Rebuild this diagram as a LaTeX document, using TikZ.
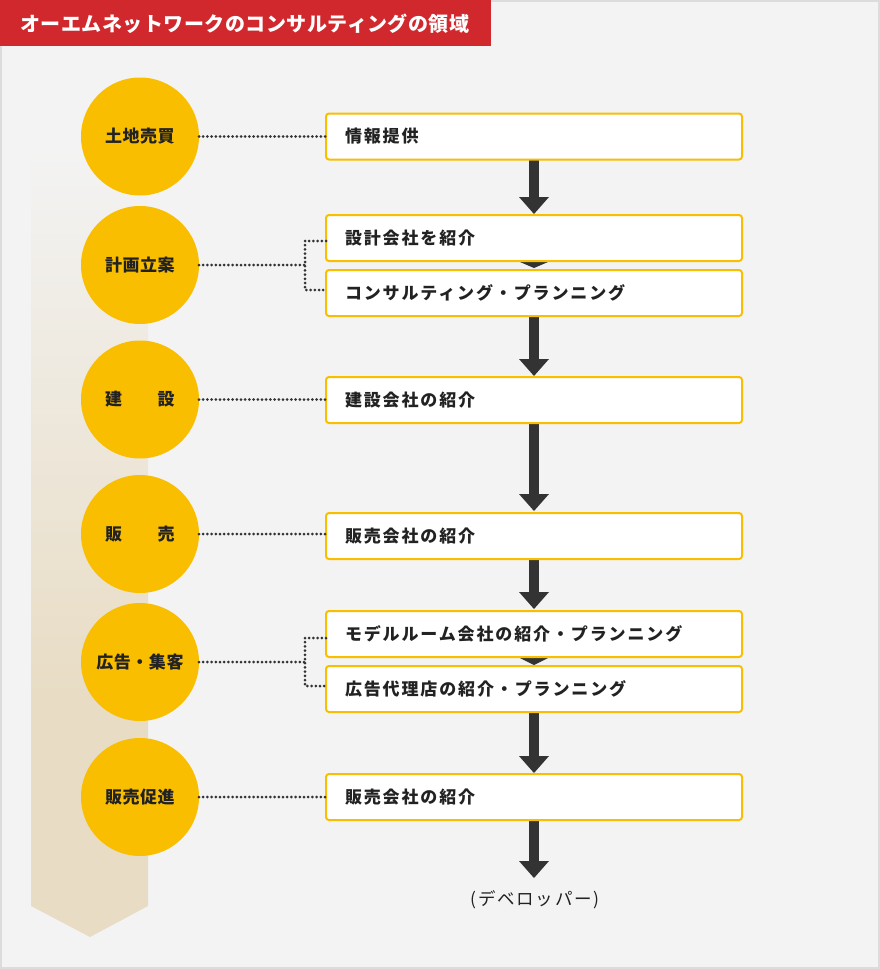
\documentclass[tikz,border=0pt]{standalone}
\usepackage{fontspec}
\setmainfont{Noto Sans CJK JP}
\usetikzlibrary{calc}
\definecolor{bgc}{HTML}{F3F3F3}
\definecolor{framec}{HTML}{DCDCDC}
\definecolor{titlered}{HTML}{D0282C}
\definecolor{gold}{HTML}{F9BE00}
\definecolor{beige}{HTML}{E8DCC4}
\definecolor{arrc}{HTML}{333333}
\definecolor{txt}{HTML}{222222}
\tikzset{
  stage/.style={circle, fill=gold, minimum size=118pt, inner sep=0pt, outer sep=0pt,
    text=txt, font=\fontsize{17}{19}\selectfont\bfseries\addfontfeatures{LetterSpace=3}},
  itembox/.style={draw=gold, line width=2pt, fill=white, rounded corners=3pt,
    minimum height=46pt, text width=378pt, inner xsep=19pt, inner ysep=0pt, outer sep=0pt,
    align=left, text=txt, font=\fontsize{17}{20}\selectfont\bfseries\addfontfeatures{LetterSpace=11}},
  dotline/.style={draw=arrc, line width=3pt, line cap=round, dash pattern=on 0pt off 4.2pt},
  arrfill/.style={fill=arrc},
}
\newcommand\flowarr[2]{%
  \fill[arrfill] ([xshift=-5pt]#1) rectangle ([xshift=5pt,yshift=17pt]#2);
  \fill[arrfill] ([xshift=-15pt,yshift=17pt]#2) -- (#2) -- ([xshift=15pt,yshift=17pt]#2) -- cycle;}
\begin{document}
\begin{tikzpicture}[x=1pt,y=-1pt]
\useasboundingbox (0,0) rectangle (880,969);
% background
\fill[bgc] (0,0) rectangle (880,969);
\draw[framec, line width=2pt] (1,1) rectangle (879,968);
% title
\fill[titlered] (0,0) rectangle (491,46);
\node[anchor=west, text=white, font=\fontsize{20}{22}\selectfont\bfseries\addfontfeatures{LetterSpace=2.5}, inner sep=0pt] (title) at (20,24) {オーエムネットワークのコンサルティングの領域};
% band
\shade[top color=bgc, bottom color=beige] (31,150) rectangle (148,700);
\fill[beige] (31,699.5) -- (148,699.5) -- (148,906) -- (90,937) -- (31,906) -- cycle;
% stages
\node[stage] (s1) at (140,136.5) {土地売買};
\node[stage] (s2) at (140,265) {計画立案};
\node[stage] (s3) at (140,399.5) {建　　設};
\node[stage] (s4) at (140,534) {販　　売};
\node[stage] (s5) at (140,662) {広告・集客};
\node[stage] (s6) at (140,797) {販売促進};
% box positions
\coordinate (p1) at (534,136.5);
\coordinate (p2a) at (534,238);
\coordinate (p2b) at (534,293);
\coordinate (p3) at (534,400);
\coordinate (p4) at (534,536);
\coordinate (p5a) at (534,634);
\coordinate (p5b) at (534,689);
\coordinate (p6) at (534,797);
\coordinate (endpt) at (534,878);
% arrows (behind boxes)
\path (p1) ++(0,23) coordinate (b1s);
\path (p2a) ++(0,-24) coordinate (b2an);
\path (p2a) ++(0,24) coordinate (b2as);
\path (p2b) ++(0,-25) coordinate (b2bn);
\path (p2b) ++(0,24) coordinate (b2bs);
\path (p3) ++(0,-24) coordinate (b3n);
\path (p3) ++(0,24) coordinate (b3s);
\path (p4) ++(0,-25) coordinate (b4n);
\path (p4) ++(0,24) coordinate (b4s);
\path (p5a) ++(0,-25) coordinate (b5an);
\path (p5a) ++(0,24) coordinate (b5as);
\path (p5b) ++(0,-24) coordinate (b5bn);
\path (p5b) ++(0,24) coordinate (b5bs);
\path (p6) ++(0,-24) coordinate (b6n);
\path (p6) ++(0,24) coordinate (b6s);
\flowarr{b1s}{b2an}
\fill[arrfill] ([xshift=-14pt]b2as) -- ([xshift=14pt]b2as) -- (b2bn) -- cycle;
\flowarr{b2bs}{b3n}
\flowarr{b3s}{b4n}
\flowarr{b4s}{b5an}
\fill[arrfill] ([xshift=-14pt]b5as) -- ([xshift=14pt]b5as) -- (b5bn) -- cycle;
\flowarr{b5bs}{b6n}
\flowarr{b6s}{endpt}
% boxes
\node[itembox] (b1) at (p1) {情報提供};
\node[itembox] (b2a) at (p2a) {設計会社を紹介};
\node[itembox] (b2b) at (p2b) {コンサルティング・プランニング};
\node[itembox] (b3) at (p3) {建設会社の紹介};
\node[itembox] (b4) at (p4) {販売会社の紹介};
\node[itembox] (b5a) at (p5a) {モデルルーム会社の紹介・プランニング};
\node[itembox] (b5b) at (p5b) {広告代理店の紹介・プランニング};
\node[itembox] (b6) at (p6) {販売会社の紹介};
% dotted connectors
\draw[dotline] (s1.east) -- (s1.east -| b1.west);
\draw[dotline] (s3.east) -- (s3.east -| b3.west);
\draw[dotline] (s4.east) -- (s4.east -| b4.west);
\draw[dotline] (s6.east) -- (s6.east -| b6.west);
\coordinate (j2) at (305,265);
\draw[dotline] (s2.east) -- (j2);
\draw[dotline] (b2a.west |- 0,241) -| (j2) |- (b2b.west |- 0,290);
\coordinate (j5) at (305,662);
\draw[dotline] (s5.east) -- (j5);
\draw[dotline] (b5a.west |- 0,638) -| (j5) |- (b5b.west |- 0,686);
% end label
\node[text=txt, font=\fontsize{17.5}{20}\selectfont\addfontfeatures{LetterSpace=10}, inner sep=0pt] (dev) at (535,900) {(デベロッパー)};
\end{tikzpicture}
\end{document}
